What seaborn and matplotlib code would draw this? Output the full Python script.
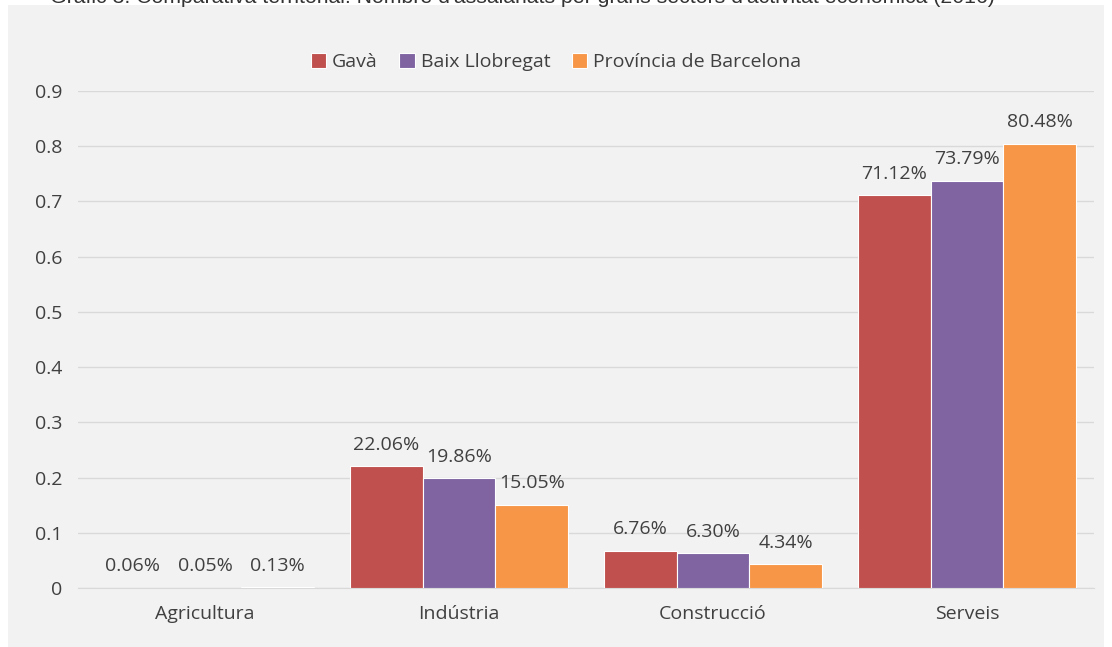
import matplotlib
matplotlib.use("Agg")
import matplotlib.pyplot as plt
from matplotlib.patches import Rectangle
import pandas as pd
import seaborn as sns

sectors = ["Agricultura", "Indústria", "Construcció", "Serveis"]
areas = ["Gavà", "Baix Llobregat", "Província de Barcelona"]
gava = [0.0006, 0.2206, 0.0676, 0.7112]
baix = [0.0005, 0.1986, 0.0630, 0.7379]
provincia = [0.0013, 0.1505, 0.0434, 0.8048]
colors = ["#C0504D", "#8064A2", "#F79646"]
yticks = [0, 0.1, 0.2, 0.3, 0.4, 0.5, 0.6, 0.7, 0.8, 0.9]
ytick_labels = ["0", "0.1", "0.2", "0.3", "0.4", "0.5", "0.6", "0.7", "0.8", "0.9"]
title = ("Gràfic 3. Comparativa territorial: Nombre d'assalariats per grans "
         "sectors d'activitat econòmica (2016)")


def main():
    rows = []
    for area, vals in zip(areas, [gava, baix, provincia]):
        for s, v in zip(sectors, vals):
            rows.append({"sector": s, "area": area, "value": v})
    df = pd.DataFrame(rows)

    sns.set_style("white")
    plt.rcParams["font.family"] = ["Open Sans", "DejaVu Sans"]
    text_col = "#404040"
    fs = 14

    fig = plt.figure(figsize=(11.12, 6.47), dpi=100, facecolor="white")
    fig.patches.append(Rectangle((8 / 1112, 0), (1104 - 8) / 1112, 1 - 5 / 647,
                                 transform=fig.transFigure, facecolor="#F2F2F2",
                                 edgecolor="none", zorder=-10))
    fig.text(50 / 1112, 1 - 3 / 647, title, family="Liberation Sans", fontsize=15.3,
             color="#333333", va="baseline", ha="left")

    ax = fig.add_axes([78 / 1112, 1 - 588 / 647, (1094 - 78) / 1112, (588 - 91) / 647])
    ax.set_facecolor("none")

    sns.barplot(data=df, x="sector", y="value", hue="area", order=sectors,
                hue_order=areas, palette=colors, saturation=1, width=0.86, gap=0,
                edgecolor="white", linewidth=0.8, ax=ax, zorder=3)

    for cont in ax.containers:
        labels = [f"{b.get_height() * 100:.2f}%" for b in cont]
        ax.bar_label(cont, labels=labels, padding=9, fontsize=fs, color=text_col)

    ax.set_xlim(-0.5, 3.5)
    ax.set_ylim(0, 0.9)
    ax.set_yticks(yticks)
    ax.set_yticklabels(ytick_labels)
    ax.grid(True, axis="y", color="#D9D9D9", linewidth=1, zorder=0)
    ax.grid(False, axis="x")
    for side in ["top", "right", "left"]:
        ax.spines[side].set_visible(False)
    ax.spines["bottom"].set_color("#D9D9D9")
    ax.tick_params(axis="both", length=0, labelsize=fs, labelcolor=text_col)
    ax.tick_params(axis="x", pad=12)
    ax.tick_params(axis="y", pad=11)
    ax.set_xlabel("")
    ax.set_ylabel("")

    handles, lbls = ax.get_legend_handles_labels()
    ax.legend(handles, lbls, loc="center", bbox_to_anchor=(0.5, 1 - 62 / 647),
              bbox_transform=fig.transFigure, ncol=3, frameon=False,
              fontsize=fs, handlelength=0.8, handleheight=0.8,
              handletextpad=0.3, columnspacing=1.1, labelcolor=text_col)

    fig.savefig("out.png", dpi=100)
    plt.close(fig)


if __name__ == "__main__":
    main()
